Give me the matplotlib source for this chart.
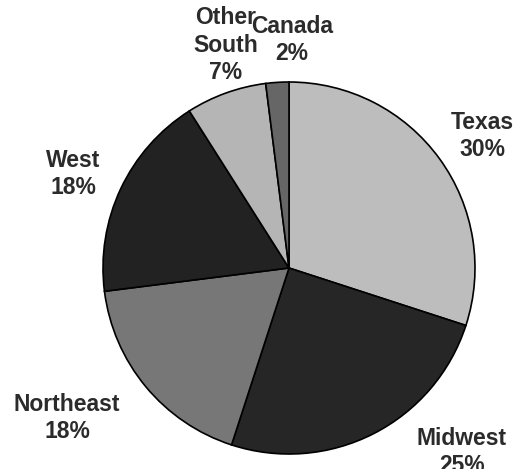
import numpy as np
import matplotlib.pyplot as plt

# share by region, clockwise from 12 o'clock
regions = ['Texas', 'Midwest', 'Northeast', 'West', 'Other\nSouth', 'Canada']
shares = [30, 25, 18, 18, 7, 2]
colors = ['#bdbdbd', '#262626', '#777777', '#222222', '#b5b5b5', '#666666']

# label anchor points in pixels (x, y from top)
label_pos = [(482, 136), (462, 452), (67, 418), (73, 174), (226, 45), (292, 40)]

W, H = 515, 469
fig = plt.figure(figsize=(W / 100, H / 100), dpi=100)
ax = fig.add_axes([0, 0, 1, 1])
ax.axis('off')

ax.pie(shares, colors=colors, startangle=90, counterclock=False,
       center=(289, H - 268), radius=186,
       wedgeprops=dict(edgecolor='black', linewidth=1.2))
ax.set_xlim(0, W)
ax.set_ylim(0, H)
ax.set_aspect('equal')

for name, val, (x, y) in zip(regions, shares, label_pos):
    ax.text(x, H - y, '%s\n%d%%' % (name, val), ha='center', va='center',
            fontsize=16.5, fontweight='bold', color='#2b2b2b',
            family='Liberation Sans', linespacing=1.25)

plt.savefig('out.png', dpi=100)
